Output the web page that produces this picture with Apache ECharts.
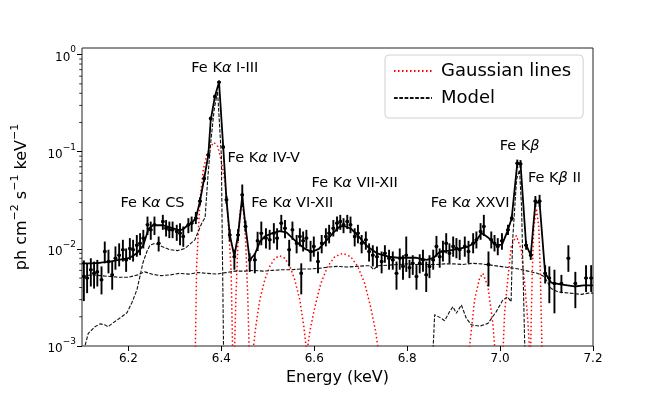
<!DOCTYPE html>
<html>
<head>
<meta charset="utf-8">
<style>
  html, body { margin: 0; padding: 0; background: #fff; }
  #chart { width: 658px; height: 395px; }
</style>
<script src="https://cdn.jsdelivr.net/npm/echarts@6/dist/echarts.min.js"></script>
</head>
<body>
<div id="chart"></div>
<script>
// observed spectrum: energy (keV), flux and the error bar ends
const energy = [6.104, 6.111, 6.119, 6.126, 6.133, 6.142, 6.149, 6.157, 6.165, 6.172, 6.180, 6.188, 6.195, 6.203, 6.210, 6.218, 6.225, 6.232, 6.241, 6.248, 6.256, 6.265, 6.274, 6.281, 6.288, 6.295, 6.304,
  6.311, 6.318, 6.329, 6.336, 6.345, 6.354, 6.363, 6.372, 6.377, 6.386, 6.395, 6.404, 6.411, 6.418, 6.428, 6.436, 6.445, 6.452, 6.461, 6.472, 6.478,
  6.486, 6.496, 6.504, 6.513, 6.520, 6.529, 6.537, 6.546, 6.553, 6.562, 6.569, 6.572, 6.576, 6.583, 6.592, 6.599, 6.608, 6.616, 6.625, 6.632, 6.641, 6.649, 6.656, 6.663, 6.671, 6.678, 6.687, 6.694, 6.702, 6.711, 6.718, 6.726, 6.735, 6.745, 6.752, 6.761, 6.769, 6.777,
  6.784, 6.791, 6.798, 6.805, 6.812, 6.820, 6.827, 6.834, 6.841, 6.848, 6.856, 6.863, 6.870, 6.877, 6.884, 6.891, 6.899, 6.906, 6.913, 6.924, 6.932, 6.942, 6.949, 6.958, 6.965, 6.975, 6.981, 6.988, 6.995, 7.004,
  7.017, 7.025, 7.037, 7.044, 7.056, 7.066, 7.076, 7.085, 7.097, 7.106, 7.117, 7.132, 7.147, 7.162, 7.185, 7.196];
const flux = [5.2e-3, 5.0e-3, 6.1e-3, 5.6e-3, 5.8e-3, 4.8e-3, 9.4e-3, 7.4e-3, 5.4e-3, 8.0e-3, 8.6e-3, 9.8e-3, 7.7e-3, 1.01e-2, 9.8e-3, 1.09e-2, 1.14e-2, 1.29e-2, 1.77e-2, 1.57e-2, 1.77e-2, 1.14e-2, 1.91e-2, 1.63e-2, 1.57e-2, 1.57e-2, 1.51e-2,
  1.45e-2, 1.34e-2, 1.77e-2, 1.84e-2, 2.07e-2, 3.1e-2, 5.3e-2, 9.3e-2, 0.22, 0.37, 0.52, 0.112, 3.2e-2, 1.39e-2, 8.3e-3, 1.39e-2, 3.6e-2, 1.7e-2, 7.7e-3, 7.7e-3, 1.21e-2,
  1.45e-2, 1.29e-2, 1.24e-2, 1.45e-2, 1.29e-2, 1.84e-2, 1.63e-2, 9.8e-3, 1.57e-2, 1.14e-2, 1.34e-2, 5.6e-3, 1.21e-2, 1.29e-2, 9.4e-3, 1.06e-2, 7.4e-3, 1.14e-2, 1.34e-2, 1.45e-2, 1.63e-2, 1.84e-2, 1.91e-2, 1.77e-2, 1.91e-2, 1.77e-2, 1.34e-2, 1.45e-2, 1.14e-2, 1.24e-2, 9.4e-3, 8.6e-3, 8.3e-3, 7.4e-3, 9.0e-3, 8.0e-3, 7.7e-3, 5.6e-3,
  8.0e-3, 6.6e-3, 8.6e-3, 6.4e-3, 7.1e-3, 5.2e-3, 7.1e-3, 7.7e-3, 5.4e-3, 6.6e-3, 7.7e-3, 1.06e-2, 8.3e-3, 9.4e-3, 1.14e-2, 9.0e-3, 1.06e-2, 1.01e-2, 9.8e-3, 1.06e-2, 9.4e-3, 1.14e-2, 1.24e-2, 1.51e-2, 1.7e-2, 6.9e-3, 1.24e-2, 1.14e-2, 1.06e-2, 1.21e-2,
  1.57e-2, 2.07e-2, 7.6e-2, 7.5e-2, 1.09e-2, 8.6e-3, 3.1e-2, 3.1e-2, 5.6e-3, 5.0e-3, 4.4e-3, 4.4e-3, 8.0e-3, 4.4e-3, 5.0e-3, 5.0e-3];
const fluxLo = [2.9e-3, 3.5e-3, 4.1e-3, 3.9e-3, 4.1e-3, 3.4e-3, 7.1e-3, 5.6e-3, 3.8e-3, 6.1e-3, 6.6e-3, 7.4e-3, 5.8e-3, 7.7e-3, 7.4e-3, 8.3e-3, 8.6e-3, 1.01e-2, 1.39e-2, 1.24e-2, 1.39e-2, 9.4e-3, 1.57e-2, 1.34e-2, 1.29e-2, 1.29e-2, 1.21e-2,
  1.09e-2, 1.05e-2, 1.45e-2, 1.5e-2, 1.8e-2, 2.8e-2, 4.9e-2, 8.8e-2, 0.21, 0.355, 0.5, 0.106, 2.9e-2, 1.2e-2, 6.1e-3, 1.2e-2, 2.7e-2, 1.5e-2, 5.8e-3, 5.6e-3, 9.5e-3,
  1.09e-2, 1.01e-2, 9.8e-3, 1.14e-2, 9.8e-3, 1.51e-2, 1.29e-2, 6.6e-3, 1.24e-2, 9.0e-3, 1.06e-2, 3.4e-3, 9.4e-3, 1.01e-2, 7.4e-3, 8.3e-3, 5.6e-3, 9.0e-3, 1.06e-2, 1.14e-2, 1.34e-2, 1.51e-2, 1.57e-2, 1.45e-2, 1.6e-2, 1.45e-2, 1.06e-2, 1.14e-2, 9.0e-3, 9.8e-3, 7.4e-3, 6.6e-3, 6.4e-3, 5.6e-3, 7.2e-3, 6.1e-3, 6.1e-3, 3.8e-3,
  6.1e-3, 4.8e-3, 5.8e-3, 5.0e-3, 5.4e-3, 3.8e-3, 5.6e-3, 5.8e-3, 3.6e-3, 5.0e-3, 6.1e-3, 8.3e-3, 6.4e-3, 7.4e-3, 9.0e-3, 7.1e-3, 8.3e-3, 8.0e-3, 7.7e-3, 8.3e-3, 7.1e-3, 9.0e-3, 1.01e-2, 1.24e-2, 1.36e-2, 4.1e-3, 1.01e-2, 9.4e-3, 8.6e-3, 9.8e-3,
  1.39e-2, 1.94e-2, 6.8e-2, 6.8e-2, 9.8e-3, 7.7e-3, 2.7e-2, 2.7e-2, 4.4e-3, 2.76e-3, 2.17e-3, 3.5e-3, 5.8e-3, 2.45e-3, 3.6e-3, 3.6e-3];
const fluxHi = [7.6e-3, 7.1e-3, 8.0e-3, 7.4e-3, 7.7e-3, 6.6e-3, 1.19e-2, 9.8e-3, 7.4e-3, 1.06e-2, 1.14e-2, 1.24e-2, 1.01e-2, 1.29e-2, 1.24e-2, 1.39e-2, 1.45e-2, 1.57e-2, 2.15e-2, 1.91e-2, 2.15e-2, 1.34e-2, 2.24e-2, 1.98e-2, 1.91e-2, 1.91e-2, 1.77e-2,
  1.84e-2, 1.7e-2, 2.07e-2, 2.15e-2, 2.4e-2, 3.4e-2, 5.7e-2, 9.8e-2, 0.23, 0.385, 0.54, 0.118, 3.5e-2, 1.6e-2, 9.8e-3, 1.6e-2, 4.6e-2, 1.95e-2, 9.0e-3, 9.0e-3, 1.5e-2,
  1.91e-2, 1.63e-2, 1.57e-2, 1.84e-2, 1.63e-2, 2.24e-2, 1.98e-2, 1.24e-2, 1.91e-2, 1.39e-2, 1.63e-2, 7.1e-3, 1.51e-2, 1.57e-2, 1.21e-2, 1.34e-2, 9.4e-3, 1.39e-2, 1.63e-2, 1.77e-2, 1.98e-2, 2.15e-2, 2.24e-2, 2.07e-2, 2.24e-2, 2.15e-2, 1.63e-2, 1.77e-2, 1.39e-2, 1.51e-2, 1.14e-2, 1.09e-2, 1.06e-2, 9.4e-3, 1.09e-2, 9.8e-3, 9.4e-3, 7.4e-3,
  1.01e-2, 8.6e-3, 1.34e-2, 7.7e-3, 8.6e-3, 6.8e-3, 8.8e-3, 9.8e-3, 7.4e-3, 8.6e-3, 9.8e-3, 1.36e-2, 1.01e-2, 1.21e-2, 1.45e-2, 1.14e-2, 1.34e-2, 1.29e-2, 1.24e-2, 1.34e-2, 1.21e-2, 1.45e-2, 1.51e-2, 1.84e-2, 2.24e-2, 9.4e-3, 1.51e-2, 1.39e-2, 1.29e-2, 1.45e-2,
  1.77e-2, 2.2e-2, 8.3e-2, 8.2e-2, 1.21e-2, 9.5e-3, 3.5e-2, 3.6e-2, 6.8e-3, 6.6e-3, 6.1e-3, 5.4e-3, 1.09e-2, 5.8e-3, 6.8e-3, 6.8e-3];

// total fitted spectrum (solid black)
const totalFit = [[6.100, 7.1e-3], [6.120, 7.1e-3], [6.140, 7.2e-3], [6.160, 7.4e-3], [6.185, 7.8e-3], [6.203, 8.1e-3], [6.218, 9.0e-3], [6.232, 1.09e-2], [6.243, 1.6e-2], [6.253, 1.75e-2], [6.275, 1.75e-2], [6.296, 1.63e-2], [6.310, 1.55e-2],
  [6.318, 1.6e-2], [6.329, 1.77e-2], [6.336, 1.85e-2], [6.345, 2.07e-2], [6.354, 3.1e-2], [6.363, 5.3e-2], [6.372, 9.3e-2], [6.377, 0.21], [6.386, 0.37], [6.395, 0.52], [6.404, 0.112], [6.411, 3.2e-2], [6.418, 1.4e-2], [6.428, 8.4e-3], [6.436, 1.4e-2], [6.445, 3.5e-2], [6.452, 1.7e-2], [6.461, 7.7e-3], [6.472, 8.8e-3],
  [6.483, 1.18e-2], [6.494, 1.35e-2], [6.510, 1.45e-2], [6.525, 1.52e-2], [6.540, 1.48e-2], [6.560, 1.2e-2], [6.580, 1.0e-2], [6.595, 9.3e-3], [6.610, 1.0e-2], [6.625, 1.2e-2], [6.640, 1.45e-2], [6.655, 1.7e-2], [6.665, 1.72e-2], [6.680, 1.6e-2], [6.695, 1.35e-2], [6.715, 1.05e-2], [6.735, 9.0e-3], [6.760, 8.3e-3],
  [6.780, 8.1e-3], [6.800, 8.1e-3], [6.820, 8.1e-3], [6.842, 7.7e-3], [6.857, 8.1e-3], [6.870, 9.3e-3], [6.890, 9.6e-3], [6.910, 1.0e-2], [6.930, 1.05e-2], [6.945, 1.15e-2], [6.960, 1.46e-2], [6.975, 1.3e-2], [6.990, 1.1e-2], [7.004, 1.1e-2],
  [7.017, 1.57e-2], [7.025, 2.07e-2], [7.037, 7.6e-2], [7.044, 7.5e-2], [7.056, 1.1e-2], [7.066, 8.6e-3], [7.076, 3.0e-2], [7.085, 3.0e-2], [7.097, 5.6e-3], [7.110, 4.5e-3], [7.130, 4.3e-3], [7.160, 4.1e-3], [7.180, 4.2e-3], [7.200, 4.2e-3]];

// dashed model pieces
const continuum = [[6.10, 5.2e-3], [6.12, 5.4e-3], [6.14, 5.3e-3], [6.16, 5.2e-3], [6.18, 5.1e-3], [6.20, 5.1e-3], [6.22, 5.4e-3], [6.235, 5.8e-3], [6.25, 5.5e-3], [6.27, 5.3e-3], [6.29, 5.4e-3], [6.31, 5.6e-3], [6.33, 5.5e-3], [6.35, 5.7e-3], [6.37, 5.6e-3], [6.39, 5.5e-3],
  [6.41, 5.7e-3], [6.43, 5.9e-3], [6.45, 5.9e-3], [6.47, 6.0e-3], [6.49, 5.9e-3], [6.51, 6.0e-3], [6.53, 6.1e-3], [6.55, 6.1e-3], [6.57, 6.2e-3], [6.59, 6.2e-3], [6.61, 6.3e-3], [6.63, 6.5e-3], [6.65, 6.6e-3], [6.67, 6.5e-3], [6.69, 6.6e-3], [6.71, 6.7e-3], [6.72, 6.7e-3], [6.728, 6.1e-3], [6.736, 6.7e-3],
  [6.76, 6.8e-3], [6.78, 6.9e-3], [6.80, 7.0e-3], [6.82, 6.9e-3], [6.84, 6.9e-3], [6.86, 6.9e-3], [6.88, 7.0e-3], [6.90, 7.0e-3], [6.92, 6.9e-3], [6.94, 7.1e-3], [6.96, 7.0e-3], [6.98, 6.8e-3], [7.00, 6.6e-3], [7.02, 6.4e-3], [7.04, 6.2e-3], [7.06, 5.9e-3],
  [7.08, 5.6e-3], [7.095, 5.2e-3], [7.11, 3.9e-3], [7.125, 3.6e-3], [7.15, 3.5e-3], [7.175, 3.4e-3], [7.19, 3.5e-3], [7.20, 3.5e-3]];
const modelLow = [[6.104, 7e-4], [6.1064, 1.0e-3], [6.1135, 1.35e-3], [6.128, 1.58e-3], [6.1387, 1.69e-3], [6.1495, 1.65e-3], [6.1559, 1.58e-3], [6.1667, 1.73e-3], [6.1817, 1.94e-3], [6.1968, 2.2e-3], [6.2075, 2.8e-3], [6.2183, 3.8e-3], [6.2247, 5.2e-3],
  [6.2312, 7.2e-3], [6.2398, 9.4e-3], [6.2462, 1.09e-2], [6.257, 1.14e-2], [6.272, 1.06e-2], [6.2892, 9.8e-3], [6.3065, 9.6e-3], [6.3215, 1.01e-2], [6.343, 1.24e-2], [6.358, 1.85e-2], [6.365, 2.1e-2], [6.371, 5.5e-2], [6.3775, 0.13], [6.3845, 0.27],
  [6.3918, 0.42], [6.3957, 0.44], [6.400, 0.09], [6.4022, 0.01], [6.4054, 5e-4]];
const modelHigh = [[6.8553, 5e-4], [6.8561, 1.0e-3], [6.8591, 2.1e-3], [6.8735, 1.93e-3], [6.8806, 1.82e-3], [6.8914, 2.26e-3], [6.8985, 2.54e-3], [6.9058, 2.17e-3], [6.9166, 2.65e-3], [6.9273, 1.93e-3], [6.9381, 1.65e-3], [6.9559, 1.6e-3],
  [6.9738, 1.71e-3], [6.9918, 2.26e-3], [7.006, 2.98e-3], [7.0161, 3.2e-3], [7.0237, 2.85e-3], [7.0269, 1.2e-2], [7.0355, 5.2e-2], [7.0419, 6.5e-2], [7.0462, 2.7e-2], [7.0527, 1.2e-3], [7.0548, 5e-4]];

// Gaussian line components (red dotted)
const gaussKaI = [[6.341, 1e-4], [6.3467, 6.6e-3], [6.3538, 3.1e-2], [6.361, 6.5e-2], [6.368, 9.0e-2], [6.375, 0.11], [6.384, 0.125], [6.3925, 0.113], [6.400, 8.0e-2], [6.4075, 5.0e-2], [6.414, 2.2e-2], [6.421, 6.0e-3], [6.428, 1e-4]];
const gaussKaIV = [[6.4269, 5e-4], [6.4312, 3.0e-3], [6.4355, 1.09e-2], [6.4398, 2.3e-2], [6.4441, 3.0e-2], [6.4484, 2.3e-2], [6.4527, 1.09e-2], [6.457, 3.0e-3], [6.4613, 5e-4]];
const gaussKaVI = [[6.4656, 7e-4], [6.4742, 1.6e-3], [6.4828, 3.0e-3], [6.4935, 4.8e-3], [6.5043, 6.6e-3], [6.515, 8.0e-3], [6.5258, 8.5e-3], [6.5366, 8.0e-3], [6.5473, 6.6e-3], [6.558, 4.8e-3], [6.5688, 3.0e-3], [6.5774, 1.6e-3], [6.586, 7e-4]];
const gaussKaVII = [[6.5817, 7e-4], [6.5903, 1.4e-3], [6.6011, 2.5e-3], [6.614, 4.4e-3], [6.629, 6.6e-3], [6.6441, 8.3e-3], [6.6613, 9.0e-3], [6.6785, 8.3e-3], [6.6936, 6.6e-3], [6.7086, 4.4e-3], [6.7215, 2.5e-3], [6.7323, 1.4e-3], [6.7409, 7e-4]];
const gaussKaXXVI = [[6.9301, 5e-4], [6.9344, 1.0e-3], [6.9452, 3.0e-3], [6.9559, 5.0e-3], [6.963, 5.6e-3], [6.9738, 4.1e-3], [6.9845, 1.7e-3], [6.9882, 1.0e-3], [6.9925, 5e-4]];
const gaussKb = [[7.0043, 5e-4], [7.0097, 2.2e-3], [7.0168, 5.0e-3], [7.0241, 1.06e-2], [7.0349, 1.37e-2], [7.0456, 9.8e-3], [7.0527, 4.5e-3], [7.0598, 1.8e-3], [7.0667, 5e-4]];
const gaussKbII = [[7.0645, 5e-4], [7.0692, 5.6e-3], [7.0727, 1.7e-2], [7.0781, 2.6e-2], [7.0832, 1.7e-2], [7.0867, 5.6e-3], [7.0914, 5e-4]];

// line labels
const annotText = ['Fe Kα I-III', 'Fe Kα IV-V', 'Fe Kα CS', 'Fe Kα VI-XII', 'Fe Kα VII-XII', 'Fe Kα XXVI', 'Fe Kβ', 'Fe Kβ II'];
const annotE = [6.4075, 6.4914, 6.2516, 6.5527, 6.6871, 6.9355, 7.0419, 7.1172];
const annotFlux = [0.73, 0.0848, 0.0298, 0.0298, 0.0479, 0.0298, 0.115, 0.054];

const xTicks = [6.2, 6.4, 6.6, 6.8, 7.0, 7.2];
const yTicks = [0.001, 0.01, 0.1, 1];
const yMinorTicks = [0.002, 0.003, 0.004, 0.005, 0.006, 0.007, 0.008, 0.009,
  0.02, 0.03, 0.04, 0.05, 0.06, 0.07, 0.08, 0.09, 0.2, 0.3, 0.4, 0.5, 0.6, 0.7, 0.8, 0.9];

const FONT = 'DejaVu Sans';
const chart = echarts.init(document.getElementById('chart'), null, { renderer: 'canvas' });

const supMinus = { '0': '0', '-1': '−1', '-2': '−2', '-3': '−3' };

function gaussSeries(data) {
  return {
    name: 'Gaussian lines', type: 'line', data: data, symbol: 'none', silent: true,
    itemStyle: { color: '#ff0000' },
    lineStyle: { color: '#ff0000', width: 1.5, type: [1.5, 2.5] }, z: 2
  };
}
function modelSeries(data) {
  return {
    name: 'Model', type: 'line', data: data, symbol: 'none', silent: true,
    itemStyle: { color: '#000' },
    lineStyle: { color: '#111', width: 1.1, type: [3.7, 1.6] }, z: 3
  };
}

function renderErr(params, api) {
  const e = api.value(0), f = api.value(1), lo = api.value(2), hi = api.value(3);
  const c = api.coord([e, f]);
  const top = api.coord([e, hi]);
  const bot = api.coord([e, lo]);
  const l = api.coord([e - 0.0038, f]);
  const r = api.coord([e + 0.0038, f]);
  const st = { stroke: '#000', lineWidth: 1.9 };
  return {
    type: 'group',
    children: [
      { type: 'line', shape: { x1: c[0], y1: top[1], x2: c[0], y2: bot[1] }, style: st },
      { type: 'line', shape: { x1: l[0], y1: c[1], x2: r[0], y2: c[1] }, style: st },
      { type: 'circle', shape: { cx: c[0], cy: c[1], r: 1.8 }, style: { fill: '#000' } }
    ]
  };
}

function renderMinor(params, api) {
  const p = api.coord([6.1, api.value(0)]);
  return {
    type: 'line',
    shape: { x1: p[0] - 2.8, y1: p[1], x2: p[0], y2: p[1] },
    style: { stroke: '#000', lineWidth: 0.8 }
  };
}

const errData = energy.map((e, i) => [e, flux[i], fluxLo[i], fluxHi[i]]);
const annotData = annotText.map((t, i) => ({ name: t, value: [annotE[i], annotFlux[i]] }));

chart.setOption({
  animation: false,
  textStyle: { fontFamily: FONT },
  grid: { left: 82, right: 65, top: 48, bottom: 49, show: true, borderColor: '#222', borderWidth: 1, backgroundColor: 'transparent' },
  legend: {
    data: ['Gaussian lines', 'Model'],
    orient: 'vertical', left: 385, top: 55,
    itemWidth: 38, itemHeight: 14, itemGap: 9,
    padding: [7, 12, 11, 8],
    itemStyle: { opacity: 0 },
    backgroundColor: 'rgba(255,255,255,0.85)', borderColor: '#d0d0d0', borderWidth: 1, borderRadius: 4,
    textStyle: { fontSize: 18, color: '#000', fontFamily: FONT, padding: [0, 0, 0, 4] },
    selectedMode: false
  },
  xAxis: {
    type: 'value', min: 6.1, max: 7.2,
    name: 'Energy (keV)', nameLocation: 'middle', nameGap: 23,
    nameTextStyle: { fontSize: 16, color: '#000', fontFamily: FONT },
    axisLine: { show: false },
    axisTick: { show: true, customValues: xTicks, length: 5, inside: false, lineStyle: { color: '#000', width: 1 } },
    axisLabel: { customValues: xTicks, formatter: v => v.toFixed(1), fontSize: 12, color: '#000', margin: 7, fontFamily: FONT },
    splitLine: { show: false }
  },
  yAxis: {
    type: 'log', logBase: 10, min: 0.001, max: 1.17,
    name: '{a|ph cm}{s|−2}{a| s}{s|−1}{a| keV}{s|−1}', nameLocation: 'middle', nameGap: 52,
    nameTextStyle: {
      color: '#000', fontFamily: FONT,
      rich: {
        a: { fontSize: 16, color: '#000', fontFamily: FONT, verticalAlign: 'bottom', lineHeight: 20 },
        s: { fontSize: 11, color: '#000', fontFamily: FONT, verticalAlign: 'top', lineHeight: 20, padding: [0, 0, 8, 0] }
      }
    },
    axisLine: { show: false },
    axisTick: { show: true, customValues: yTicks, length: 5, inside: false, lineStyle: { color: '#000', width: 1 } },
    axisLabel: {
      customValues: yTicks, margin: 6, color: '#000', fontFamily: FONT,
      formatter: v => '{b|10}{s|' + supMinus[String(Math.round(Math.log10(v)))] + '}',
      rich: {
        b: { fontSize: 12, color: '#000', fontFamily: FONT, verticalAlign: 'bottom', lineHeight: 18 },
        s: { fontSize: 9, color: '#000', fontFamily: FONT, verticalAlign: 'top', lineHeight: 18, padding: [0, 0, 7, 0] }
      }
    },
    splitLine: { show: false }
  },
  series: [
    gaussSeries(gaussKaI), gaussSeries(gaussKaIV), gaussSeries(gaussKaVI), gaussSeries(gaussKaVII),
    gaussSeries(gaussKaXXVI), gaussSeries(gaussKb), gaussSeries(gaussKbII),
    modelSeries(continuum), modelSeries(modelLow), modelSeries(modelHigh),
    {
      name: 'total', type: 'line', data: totalFit, symbol: 'none', silent: true,
      lineStyle: { color: '#000', width: 1.8 }, z: 4
    },
    {
      name: 'data', type: 'custom', data: errData, renderItem: renderErr, silent: true, z: 5,
      encode: { x: 0, y: 1 }
    },
    {
      name: 'minor', type: 'custom', data: yMinorTicks.map(v => [v]), renderItem: renderMinor, silent: true,
      clip: false, z: 6, encode: { y: 0 }
    },
    {
      name: 'labels', type: 'scatter', data: annotData, symbolSize: 0, silent: true, z: 7,
      itemStyle: { color: '#000', opacity: 1 },
      label: {
        show: true, position: 'inside', color: '#000', textBorderWidth: 0, opacity: 1,
        formatter: p => '{n|' + p.name.replace(/([αβ])/, '}{g|$1}{n|') + '}',
        rich: {
          n: { fontSize: 14.5, color: '#000', fontFamily: FONT, textBorderWidth: 0 },
          g: { fontSize: 14.5, color: '#000', fontFamily: FONT, fontStyle: 'italic', textBorderWidth: 0 }
        }
      }
    }
  ]
});
</script>
</body>
</html>
